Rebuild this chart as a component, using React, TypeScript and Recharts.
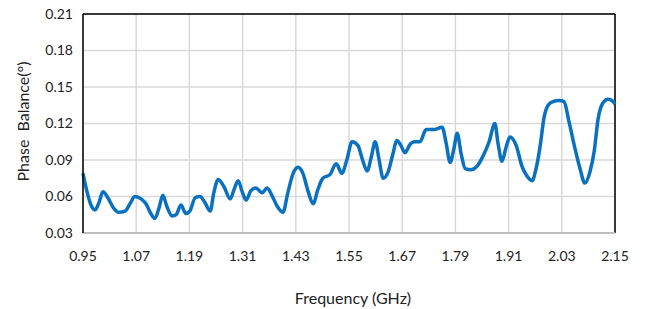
import { LineChart, Line, XAxis, YAxis, CartesianGrid, ReferenceLine } from 'recharts'

// frequency (GHz) and phase balance (°)
const freq = [
  0.95, 0.959, 0.968, 0.977, 0.986, 0.995, 1.006, 1.018, 1.031, 1.045,
  1.056, 1.067, 1.081, 1.092, 1.103, 1.112, 1.121, 1.13, 1.139, 1.151,
  1.16, 1.171, 1.182, 1.191, 1.203, 1.214, 1.225, 1.237, 1.245, 1.255,
  1.268, 1.282, 1.291, 1.3, 1.309, 1.318, 1.329, 1.34, 1.354, 1.365,
  1.376, 1.388, 1.401, 1.412, 1.424, 1.435, 1.446, 1.458, 1.469, 1.48,
  1.491, 1.507, 1.521, 1.534, 1.545, 1.557, 1.57, 1.579, 1.591, 1.6,
  1.609, 1.618, 1.627, 1.638, 1.649, 1.658, 1.667, 1.676, 1.688, 1.697,
  1.71, 1.724, 1.742, 1.76, 1.769, 1.778, 1.787, 1.794, 1.803, 1.812,
  1.825, 1.839, 1.852, 1.866, 1.879, 1.886, 1.895, 1.904, 1.913, 1.927,
  1.94, 1.951, 1.963, 1.972, 1.981, 1.99, 1.999, 2.01, 2.024, 2.035,
  2.046, 2.06, 2.071, 2.082, 2.094, 2.103, 2.112, 2.123, 2.134, 2.143,
  2.15,
]
const phase = [
  0.079, 0.064, 0.053, 0.049, 0.055, 0.064, 0.059, 0.051, 0.047, 0.048,
  0.054, 0.06, 0.058, 0.054, 0.046, 0.042, 0.05, 0.061, 0.052, 0.044,
  0.045, 0.053, 0.046, 0.048, 0.059, 0.06, 0.055, 0.048, 0.063, 0.074,
  0.068, 0.058, 0.066, 0.073, 0.064, 0.057, 0.065, 0.067, 0.063, 0.067,
  0.061, 0.052, 0.047, 0.063, 0.079, 0.084, 0.079, 0.064, 0.054, 0.066,
  0.075, 0.078, 0.087, 0.079, 0.09, 0.105, 0.102, 0.092, 0.081, 0.092,
  0.105, 0.09, 0.075, 0.08, 0.095, 0.106, 0.102, 0.096, 0.103, 0.105,
  0.105, 0.115, 0.115, 0.117, 0.104, 0.088, 0.1, 0.112, 0.095, 0.083,
  0.082, 0.085, 0.093, 0.105, 0.12, 0.104, 0.089, 0.1, 0.109, 0.102,
  0.085, 0.077, 0.073, 0.083, 0.101, 0.125, 0.135, 0.138, 0.139, 0.138,
  0.122, 0.099, 0.083, 0.071, 0.081, 0.097, 0.124, 0.137, 0.14, 0.139,
  0.136,
]
const xTicks = [0.95, 1.07, 1.19, 1.31, 1.43, 1.55, 1.67, 1.79, 1.91, 2.03, 2.15]
const yTicks = [0.03, 0.06, 0.09, 0.12, 0.15, 0.18, 0.21]

const data = freq.map((f, i) => ({ f, v: phase[i] }))

const FONT = 'Lato, "Open Sans", sans-serif'
const tickStyle = { fontSize: 14, fill: '#222', fontFamily: FONT }

export default function App() {
  return (
    <div style={{ position: 'fixed', left: 0, top: 0, width: 667, height: 309, background: '#fff' }}>
      <LineChart width={667} height={309} data={data} margin={{ top: 14, right: 52, bottom: 0, left: 0 }}>
        <CartesianGrid stroke="#d9d9d9" strokeWidth={1.5} />
        <XAxis
          dataKey="f"
          type="number"
          domain={[0.95, 2.15]}
          ticks={xTicks}
          tickFormatter={(t: number) => t.toFixed(2)}
          height={76}
          tickSize={0}
          tickMargin={18}
          axisLine={{ stroke: '#bfbfbf', strokeWidth: 2 }}
          tick={tickStyle}
          label={{
            content: ({ viewBox }: any) => (
              <text
                x={viewBox.x + viewBox.width / 2 + 4}
                y={viewBox.y + 64}
                textAnchor="middle"
                dominantBaseline="central"
                fontSize={16}
                fill="#222"
                fontFamily={FONT}
              >
                Frequency (GHz)
              </text>
            ),
          }}
        />
        <YAxis
          type="number"
          domain={[0.03, 0.21]}
          ticks={yTicks}
          tickFormatter={(t: number) => t.toFixed(2)}
          width={83}
          tickSize={0}
          tickMargin={10}
          axisLine={{ stroke: '#000', strokeWidth: 1.5 }}
          tick={tickStyle}
          label={{
            content: ({ viewBox }: any) => {
              const cx = 22
              const cy = viewBox.y + viewBox.height / 2 - 2
              return (
                <text
                  x={cx}
                  y={cy}
                  transform={`rotate(-90 ${cx} ${cy})`}
                  textAnchor="middle"
                  dominantBaseline="central"
                  fontSize={16}
                  fill="#222"
                  fontFamily={FONT}
                  style={{ whiteSpace: 'pre' }}
                >
                  Phase  Balance(°)
                </text>
              )
            },
          }}
        />
        <ReferenceLine y={0.21} stroke="#000" strokeWidth={1.5} />
        <ReferenceLine x={2.15} stroke="#000" strokeWidth={1.5} />
        <Line
          type="monotone"
          dataKey="v"
          stroke="#0a70c0"
          strokeWidth={3.5}
          dot={false}
          isAnimationActive={false}
        />
      </LineChart>
    </div>
  )
}
